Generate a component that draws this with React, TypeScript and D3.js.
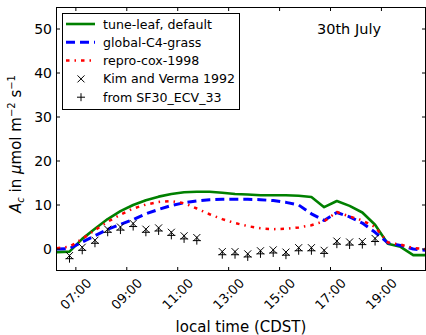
import React from "react";
import * as d3 from "d3";

const modelTimes = [6.25, 6.75, 7.25, 7.75, 8.25, 8.75, 9.25, 9.75, 10.25, 10.75, 11.25, 11.75, 12.25, 12.75, 13.25, 13.75, 14.25, 14.75, 15.25, 15.75, 16.25, 16.75, 17.25, 17.75, 18.25, 18.75, 19.25, 19.75, 20.25, 20.75];
const tuneLeaf = [-0.7, -0.6, 2.3, 4.6, 6.8, 8.6, 10.0, 11.1, 11.9, 12.5, 12.9, 13.0, 13.0, 12.8, 12.5, 12.4, 12.2, 12.2, 12.2, 12.1, 11.8, 9.5, 10.9, 9.8, 8.3, 5.5, 1.2, 0.5, -1.4, -1.4];
const globalC4 = [0.0, 0.1, 1.6, 3.0, 4.5, 5.6, 6.7, 8.0, 9.0, 9.9, 10.5, 10.9, 11.2, 11.3, 11.3, 11.3, 11.2, 11.0, 10.6, 10.0, 8.0, 6.5, 8.3, 7.3, 5.9, 3.8, 1.4, 0.8, 0.0, -0.3];
const reproCox = [0.2, 0.5, 2.3, 4.3, 6.2, 7.8, 9.2, 10.1, 10.7, 10.9, 10.4, 9.2, 7.9, 6.8, 5.9, 5.2, 4.7, 4.5, 4.6, 4.9, 5.4, 6.3, 8.4, 7.4, 6.5, 5.0, 1.5, 1.0, 0.2, 0.0];

const obsTimes = [6.75, 7.25, 7.75, 8.25, 8.75, 9.25, 9.75, 10.25, 10.75, 11.25, 11.75, 12.75, 13.25, 13.75, 14.25, 14.75, 15.25, 15.75, 16.25, 16.75, 17.25, 17.75, 18.25, 18.75];
const kimVerma = [-1.5, 0.4, 2.0, 4.5, 5.0, 5.8, 4.5, 4.8, 3.8, 3.0, 2.6, -0.6, -0.6, -1.1, -0.4, -0.2, -0.7, 0.3, 0.3, -0.3, 1.8, 1.6, 1.7, 2.4];
const sf30 = [-2.2, -0.3, 1.3, 3.8, 4.3, 5.1, 3.8, 4.1, 3.1, 2.3, 1.9, -1.3, -1.3, -1.8, -1.1, -0.9, -1.4, -0.4, -0.4, -1.0, 1.1, 0.9, 1.0, 1.7];

const xTicks = [7, 9, 11, 13, 15, 17, 19];
const xTickLabels = ["07:00", "09:00", "11:00", "13:00", "15:00", "17:00", "19:00"];
const yTicks = [0, 10, 20, 30, 40, 50];

const legendLabels = ["tune-leaf, default", "global-C4-grass", "repro-cox-1998", "Kim and Verma 1992", "from SF30_ECV_33"];

const FONT = "DejaVu Sans, sans-serif";

export default function App() {
  const W = 426, H = 335;
  const L = 56, R = 426, T = 7, B = 271;
  const x = d3.scaleLinear().domain([6.22, 20.75]).range([L, R]);
  const y = d3.scaleLinear().domain([-5, 55]).range([B, T]);

  const line = d3.line<number>().x((_, i) => x(modelTimes[i])).y((d) => y(d));

  const series = [
    { data: tuneLeaf, color: "#008000", width: 2.6, dash: undefined as string | undefined },
    { data: globalC4, color: "#0000ff", width: 3, dash: "9,5" },
    { data: reproCox, color: "#ff0000", width: 2.5, dash: "3.5,5,1.5,5" },
  ];

  const xMark = (cx: number, cy: number, s: number, key: string) => (
    <path key={key} d={`M${cx - s},${cy - s}L${cx + s},${cy + s}M${cx - s},${cy + s}L${cx + s},${cy - s}`} stroke="#000" strokeWidth={1} fill="none" />
  );
  const plusMark = (cx: number, cy: number, s: number, key: string) => (
    <path key={key} d={`M${cx - s},${cy}L${cx + s},${cy}M${cx},${cy - s}L${cx},${cy + s}`} stroke="#000" strokeWidth={1} fill="none" />
  );

  const legX = 62, legY = 13, legW = 177, legH = 96;
  const rowY = (i: number) => 24 + i * 18.3;

  return (
    <svg width={W} height={H} style={{ position: "absolute", left: 0, top: 0 }} fontFamily={FONT}>
      <rect x={0} y={0} width={W} height={H} fill="#fff" />
      <defs>
        <clipPath id="plotclip">
          <rect x={L} y={T} width={R - L} height={B - T} />
        </clipPath>
      </defs>
      <g clipPath="url(#plotclip)">
        {series.map((s, i) => (
          <path key={i} d={line(s.data) || ""} fill="none" stroke={s.color} strokeWidth={s.width} strokeDasharray={s.dash} strokeLinejoin="round" />
        ))}
        {obsTimes.map((t, i) => xMark(x(t), y(kimVerma[i]), 3.5, "k" + i))}
        {obsTimes.map((t, i) => plusMark(x(t), y(sf30[i]), 4, "p" + i))}
      </g>
      <rect x={L + 0.5} y={T + 0.5} width={R - L - 1} height={B - T - 1} fill="none" stroke="#000" strokeWidth={1} />
      {xTicks.map((t, i) => (
        <g key={"xt" + i}>
          <line x1={x(t)} x2={x(t)} y1={B} y2={B - 4} stroke="#000" />
          <line x1={x(t)} x2={x(t)} y1={T} y2={T + 4} stroke="#000" />
          <text x={x(t)} y={294} fontSize={13} textAnchor="middle" dominantBaseline="central" transform={`rotate(-45 ${x(t)} 294)`}>{xTickLabels[i]}</text>
        </g>
      ))}
      {yTicks.map((v, i) => (
        <g key={"yt" + i}>
          <line x1={L} x2={L + 4} y1={y(v)} y2={y(v)} stroke="#000" />
          <line x1={R} x2={R - 4} y1={y(v)} y2={y(v)} stroke="#000" />
          <text x={L - 4} y={y(v)} fontSize={14} textAnchor="end" dominantBaseline="central">{v}</text>
        </g>
      ))}
      <text x={(L + R) / 2} y={332} fontSize={15} textAnchor="middle">local time (CDST)</text>
      <text transform={`translate(20.5 144) rotate(-90)`} fontSize={15} textAnchor="middle">
        <tspan fontStyle="italic">A</tspan>
        <tspan fontStyle="italic" fontSize={10} dy={3}>c</tspan>
        <tspan dy={-3}> in </tspan>
        <tspan fontStyle="italic">μ</tspan>
        <tspan>mol m</tspan>
        <tspan fontSize={10} dy={-6}>−2</tspan>
        <tspan dy={6}> s</tspan>
        <tspan fontSize={10} dy={-6}>−1</tspan>
      </text>
      <text x={381} y={34} fontSize={14.5} textAnchor="end">30th July</text>
      <g>
        <rect x={legX + 0.5} y={legY + 0.5} width={legW} height={legH} fill="#fff" stroke="#000" strokeWidth={1} />
        {series.map((s, i) => (
          <line key={"ll" + i} x1={66} x2={95} y1={rowY(i)} y2={rowY(i)} stroke={s.color} strokeWidth={s.width} strokeDasharray={s.dash} />
        ))}
        {xMark(81, rowY(3), 3.5, "lx")}
        {plusMark(81, rowY(4), 4, "lp")}
        {legendLabels.map((lab, i) => (
          <text key={"lt" + i} x={103} y={rowY(i)} fontSize={12.6} dominantBaseline="central">{lab}</text>
        ))}
      </g>
    </svg>
  );
}
